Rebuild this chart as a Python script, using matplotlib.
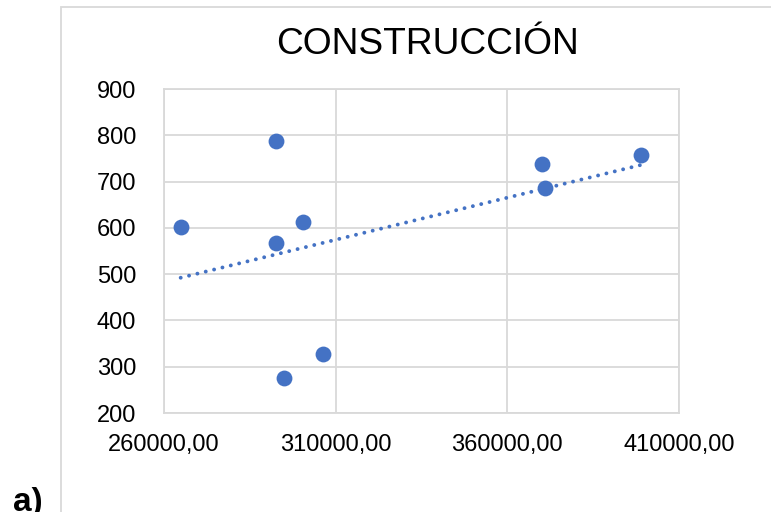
import numpy as np
import matplotlib
matplotlib.use("Agg")
import matplotlib.pyplot as plt
from matplotlib.patches import Rectangle
from matplotlib.ticker import FuncFormatter

plt.rcParams['font.family'] = ['Liberation Sans', 'DejaVu Sans']

# Construction data: x value vs y value
x_vals = [264860, 292620, 300580, 292710, 306220, 295050, 370020, 370890, 399030]
y_vals = [602, 788, 613, 568, 327, 275, 738, 686, 757]

x_ticks = [260000, 310000, 360000, 410000]
y_ticks = [200, 300, 400, 500, 600, 700, 800, 900]

blue = '#4472C4'
grid_gray = '#D9D9D9'

fig = plt.figure(figsize=(7.71, 5.12), dpi=100)
W, H = 771, 512

# outer chart frame
fig.patches.append(Rectangle((61 / W, -0.05), 1.0, 1 - 7 / H + 0.05,
                             transform=fig.transFigure, fill=False,
                             edgecolor=grid_gray, linewidth=1.3))

ax = fig.add_axes([164 / W, 1 - 413 / H, (679 - 164) / W, (413 - 89) / H])

ax.scatter(x_vals, y_vals, s=130, color=blue, zorder=3, linewidths=0)

# linear trendline
slope, intercept = np.polyfit(x_vals, y_vals, 1)
tx = np.array([min(x_vals), max(x_vals)])
ax.plot(tx, slope * tx + intercept, color=blue, linewidth=2.8,
        linestyle=(0, (0.01, 2.2)), dash_capstyle='round', zorder=2)

ax.set_xlim(260000, 410000)
ax.set_ylim(200, 900)
ax.set_xticks(x_ticks)
ax.set_yticks(y_ticks)
ax.xaxis.set_major_formatter(FuncFormatter(lambda v, p: f"{v:.2f}".replace('.', ',')))
ax.grid(True, color=grid_gray, linewidth=1.3, zorder=0)
ax.set_axisbelow(True)
for sp in ax.spines.values():
    sp.set_color(grid_gray)
    sp.set_linewidth(1.3)
ax.tick_params(length=0, labelsize=17, colors='black')
ax.tick_params(axis='y', pad=20)
ax.tick_params(axis='x', pad=15)

fig.text(427 / W, 1 - 45 / H, 'CONSTRUCCIÓN', fontsize=26.7, ha='center', va='center')
fig.text(13 / W, 1 - 511 / H, 'a)', fontsize=24, fontweight='bold', ha='left', va='baseline')

fig.savefig('out.png', dpi=100)
